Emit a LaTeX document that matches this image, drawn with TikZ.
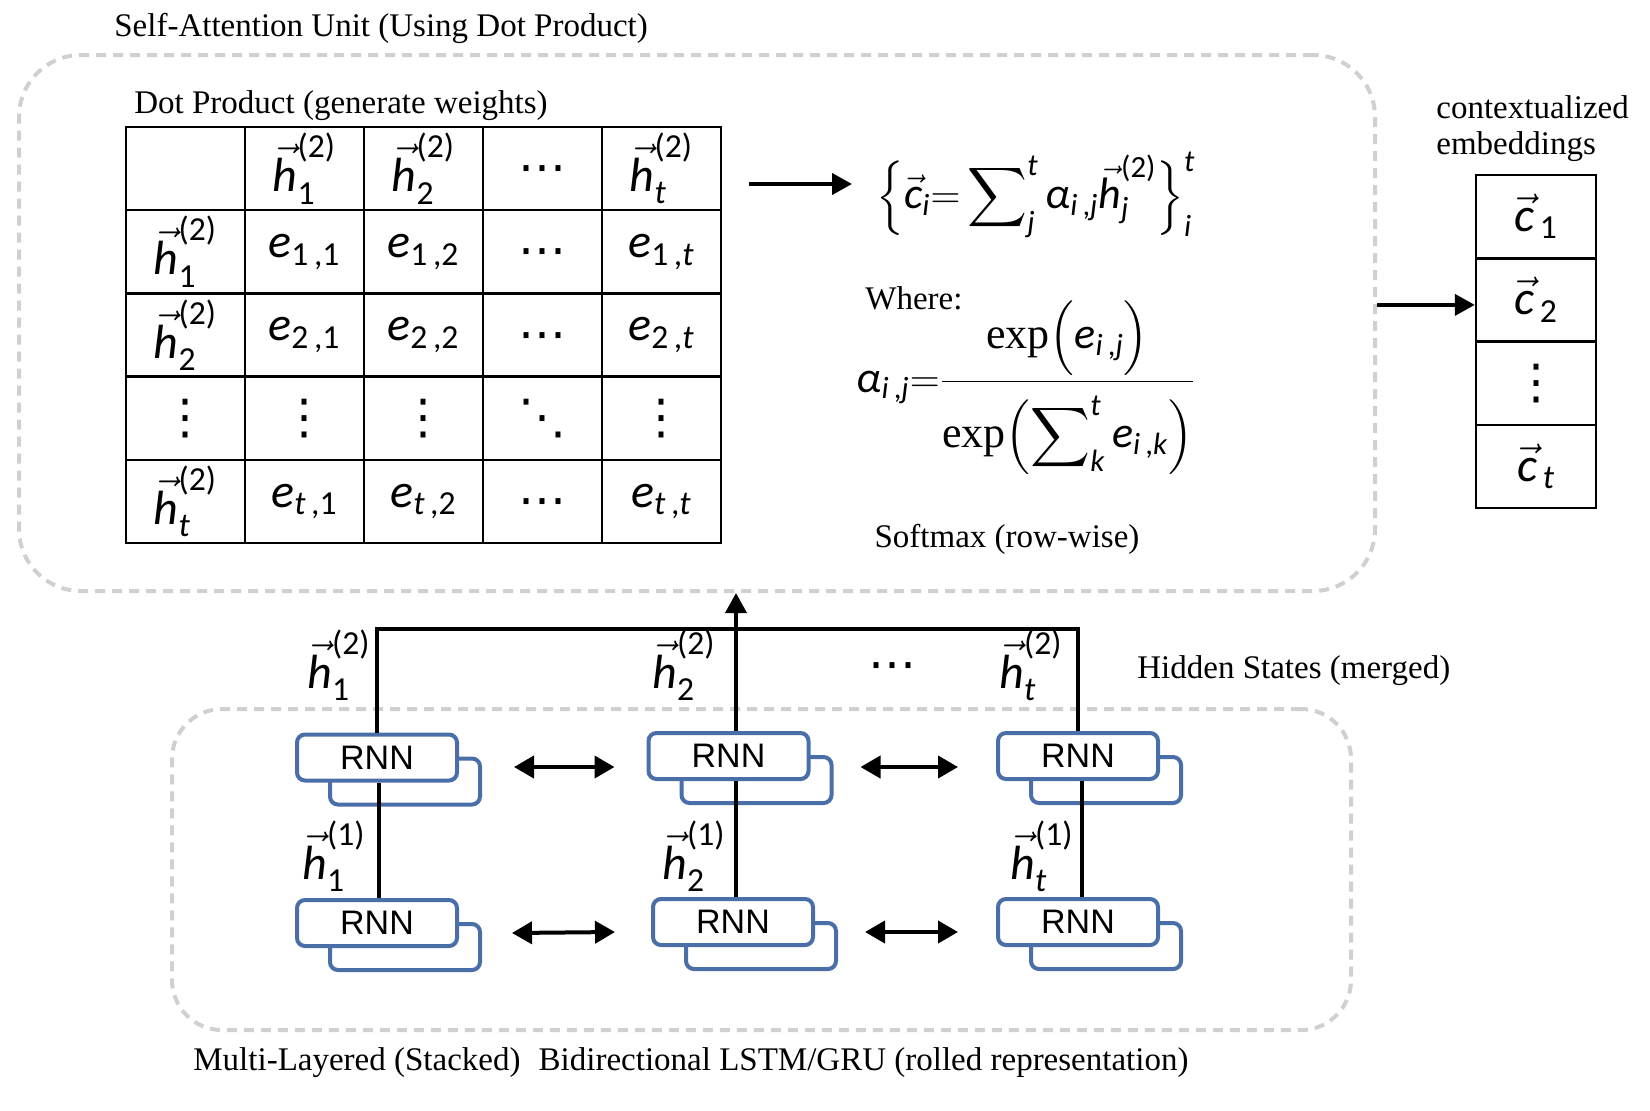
\documentclass[tikz,border=0pt]{standalone}
\usepackage{amsmath}
\usepackage{fontspec}
\setmainfont{Liberation Serif}
\newfontfamily\cfont{Carlito}
\newfontfamily\afont{Liberation Sans}
\newfontfamily\dvfont{DejaVu Sans}
\usetikzlibrary{arrows.meta,calc}
\definecolor{rnnblue}{HTML}{4A6EA8}
\definecolor{dashgray}{HTML}{D0D0D0}
\newcommand\mi[1]{\text{\cfont\itshape #1}}
\newcommand\mr[1]{\text{\cfont\upshape #1}}
\newcommand\hvec[2]{\vec{\mi{h}}_{#1}^{\mr{(#2)}}}
\newcommand\cvec[1]{\vec{\mi{c}}_{\,#1}}
\newcommand\ee[2]{\mi{e}_{#1\mr{\,,}#2}}
\newcommand\vd{\text{\dvfont ⋮}}
\newcommand\dd{\text{\dvfont ⋱}}
\newcommand\hd{\raisebox{-7.5pt}[0pt][0pt]{\dvfont ⋯}}
\begin{document}
\begin{tikzpicture}[x=0.5pt,y=-0.5pt,
 dbox/.style={draw=dashgray, line width=2pt, dash pattern=on 5pt off 3.5pt, inner sep=0pt},
 txt/.style={inner sep=0pt, font=\fontsize{16.5}{18}\selectfont},
 cell/.style={draw, line width=1.2pt, minimum width=59.5pt, minimum height=41.6pt, inner sep=0pt, font=\fontsize{24}{28}\selectfont},
 mth/.style={inner sep=0pt, font=\fontsize{24}{28}\selectfont},
 fml/.style={inner sep=0pt, font=\fontsize{22}{26}\selectfont},
 rnnf/.style={draw=rnnblue, fill=white, line width=2pt, rounded corners=4pt, minimum width=80pt, minimum height=23pt, inner sep=0pt, font=\afont\fontsize{17}{20}\selectfont},
 rnnb/.style={draw=rnnblue, fill=white, line width=2pt, rounded corners=4pt, minimum width=75pt, minimum height=23pt, inner sep=0pt},
 conn/.style={line width=2pt},
 arr/.style={line width=2pt, -{Triangle[length=10pt,width=10.5pt]}},
 darr/.style={line width=2pt, {Triangle[length=10pt,width=11pt]}-{Triangle[length=10pt,width=11pt]}}
]
\useasboundingbox (0,0) rectangle (1650,1110);

% dashed containers
\node[dbox, rounded corners=31pt, minimum width=678pt, minimum height=268pt] (att) at (697,323) {};
\node[dbox, rounded corners=25pt, minimum width=589.5pt, minimum height=160.5pt] (lb) at (761.5,869.5) {};

% titles
\node[txt, anchor=west] (title) at (114,28) {Self-Attention Unit (Using Dot Product)};
\node[txt, anchor=west] (dplbl) at (134,106) {Dot Product (generate weights)};

% table
\node[cell] (t00) at (185.5,168.6) {};
\node[cell] (t01) at (304.5,168.6) {$\hvec{\mr{1}}{2}$};
\node[cell] (t02) at (423.5,168.6) {$\hvec{\mr{2}}{2}$};
\node[cell] (t03) at (542.5,168.6) {$\hd$};
\node[cell] (t04) at (661.5,168.6) {$\hvec{\mi{t}}{2}$};

\node[cell] (t10) at (185.5,251.8) {$\hvec{\mr{1}}{2}$};
\node[cell] (t11) at (304.5,251.8) {$\ee{\mr{1}}{\mr{1}}$};
\node[cell] (t12) at (423.5,251.8) {$\ee{\mr{1}}{\mr{2}}$};
\node[cell] (t13) at (542.5,251.8) {$\hd$};
\node[cell] (t14) at (661.5,251.8) {$\ee{\mr{1}}{\mi{t}}$};

\node[cell] (t20) at (185.5,335) {$\hvec{\mr{2}}{2}$};
\node[cell] (t21) at (304.5,335) {$\ee{\mr{2}}{\mr{1}}$};
\node[cell] (t22) at (423.5,335) {$\ee{\mr{2}}{\mr{2}}$};
\node[cell] (t23) at (542.5,335) {$\hd$};
\node[cell] (t24) at (661.5,335) {$\ee{\mr{2}}{\mi{t}}$};

\node[cell] (t30) at (185.5,418.2) {$\vd$};
\node[cell] (t31) at (304.5,418.2) {$\vd$};
\node[cell] (t32) at (423.5,418.2) {$\vd$};
\node[cell] (t33) at (542.5,418.2) {$\dd$};
\node[cell] (t34) at (661.5,418.2) {$\vd$};

\node[cell] (t40) at (185.5,501.4) {$\hvec{\mi{t}}{2}$};
\node[cell] (t41) at (304.5,501.4) {$\ee{\mi{t}}{\mr{1}}$};
\node[cell] (t42) at (423.5,501.4) {$\ee{\mi{t}}{\mr{2}}$};
\node[cell] (t43) at (542.5,501.4) {$\hd$};
\node[cell] (t44) at (661.5,501.4) {$\ee{\mi{t}}{\mi{t}}$};

% formulas
\coordinate (a1s) at (749,184);
\coordinate (a1e) at (852,184);
\draw[arr] (a1s) -- (a1e);
\node[fml] (ci) at (1036,195) {$\displaystyle \Bigl\{\vec{\mi{c}}_{\mi{i}}{=}\sum\nolimits_{\mi{j}}^{\mi{t}}\mi{α}_{\mi{i}\mr{\,,}\mi{j}}\hvec{\mi{j}}{2}\Bigr\}_{\mi{i}}^{\mi{t}}$};
\node[txt, anchor=west] (where) at (865,298) {Where:};
\node[fml, anchor=base] (alpha) at (1026,392) {$\displaystyle \mi{α}_{\mi{i}\mr{\,,}\mi{j}}{=}\frac{\rule[-11pt]{0pt}{1pt}\text{exp}\Bigl(\mi{e}_{\mi{i}\mr{\,,}\mi{j}}\Bigr)}{\rule{0pt}{30pt}\text{exp}\Bigl(\displaystyle\sum\nolimits_{\mi{k}}^{\mi{t}}\mi{e}_{\mi{i}\mr{\,,}\mi{k}}\Bigr)}$};
\node[txt] (softmax) at (1007,539) {Softmax (row-wise)};

% contextualized embeddings
\node[txt, anchor=west, align=left, font=\fontsize{16.5}{18}\selectfont] (ctx) at (1436,129) {contextualized\\embeddings};
\node[cell, minimum width=60pt] (e1) at (1536,216.6) {$\cvec{\mr{1}}$};
\node[cell, minimum width=60pt] (e2) at (1536,299.9) {$\cvec{\mr{2}}$};
\node[cell, minimum width=60pt] (e3) at (1536,383.2) {$\vd$};
\node[cell, minimum width=60pt] (e4) at (1536,466.5) {$\cvec{\mi{t}}$};
\draw[arr] ($(att.east |- e2.west)+(0,5)$) -- ($(e2.west)+(0,5)$);

% RNN blocks
\node[rnnb] (rnn1ab) at (405,781.5) {};
\node[rnnf] (rnn1a) at (377,757.5) {RNN};
\node[rnnb] (rnn2ab) at (756.5,780) {};
\node[rnnf] (rnn2a) at (728.5,756) {RNN};
\node[rnnb] (rnn3ab) at (1106,780) {};
\node[rnnf] (rnn3a) at (1078,756) {RNN};

\node[rnnb] (rnn1bb) at (405,947) {};
\node[rnnf] (rnn1b) at (377,923) {RNN};
\node[rnnb] (rnn2bb) at (761,946) {};
\node[rnnf] (rnn2b) at (733,922) {RNN};
\node[rnnb] (rnn3bb) at (1106,946) {};
\node[rnnf] (rnn3b) at (1078,922) {RNN};

% vertical connections
\draw[conn] ($(rnn1a.south)+(2,0)$) -- ($(rnn1b.north)+(2,0)$);
\draw[conn] ($(rnn2a.south)+(7.5,0)$) -- ($(rnn2b.north)+(3,0)$);
\draw[conn] ($(rnn3a.south)+(4,0)$) -- ($(rnn3b.north)+(4,0)$);

\coordinate (hl) at (0,629);
\draw[conn] (rnn1a.north) -- (rnn1a.north |- hl) -- (rnn3a.north |- hl) -- (rnn3a.north);
\draw[arr] ($(rnn2a.north)+(7.5,0)$) -- ($(rnn2a.north |- att.south)+(7.5,0)$);

% bidirectional arrows
\draw[darr] ($(rnn1ab.east)+(32,-14.5)$) -- ($(rnn2a.west)+(-32,11)$);
\draw[darr] ($(rnn2ab.east)+(27,-13)$) -- ($(rnn3a.west)+(-38,11)$);
\draw[darr] ($(rnn1bb.east)+(30,-14)$) -- ($(rnn2b.west)+(-36,10)$);
\draw[darr] ($(rnn2bb.east)+(27,-14)$) -- ($(rnn3b.west)+(-38,10)$);

% hidden-state labels
\node[mth] (lh12) at (339,665) {$\hvec{\mr{1}}{2}$};
\node[mth] (lh22) at (684,665) {$\hvec{\mr{2}}{2}$};
\node[mth] (ldots) at (892,665) {$\hd$};
\node[mth] (lht2) at (1031,665) {$\hvec{\mi{t}}{2}$};
\node[txt, anchor=west] (hs) at (1137,671) {Hidden States (merged)};

\node[mth] (lh11) at (334,856) {$\hvec{\mr{1}}{1}$};
\node[mth] (lh21) at (694,856) {$\hvec{\mr{2}}{1}$};
\node[mth] (lht1) at (1042,856) {$\hvec{\mi{t}}{1}$};

\node[txt, anchor=west] (bottom) at (193,1063) {Multi-Layered (Stacked)\hspace{0.55em}Bidirectional LSTM/GRU (rolled representation)};
\end{tikzpicture}
\end{document}
